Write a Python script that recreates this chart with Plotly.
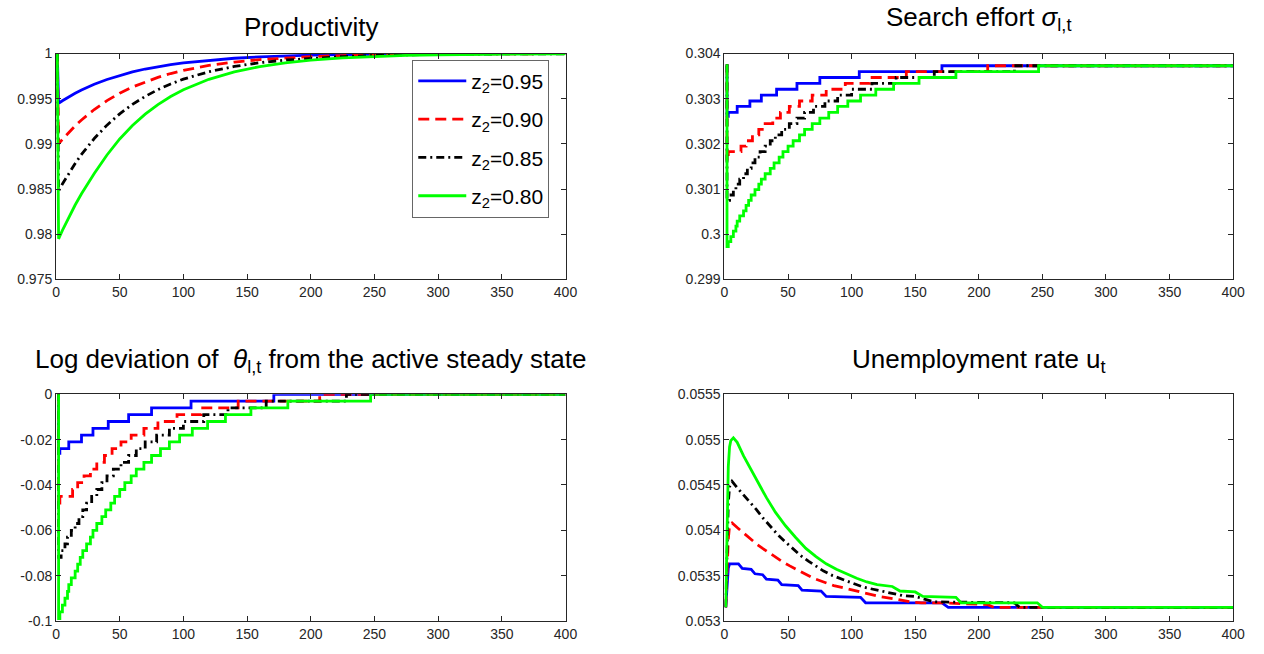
import plotly.graph_objects as go

########################
# Data
series_names = ["z<sub>2</sub>=0.95", "z<sub>2</sub>=0.90", "z<sub>2</sub>=0.85", "z<sub>2</sub>=0.80"]
colors = ["#0000FF", "#FF0000", "#000000", "#00FF00"]
dashes = ["solid", "11px,6px", "8px,4px,2px,4px", "solid"]

# Productivity
prod_t = [1, 2, 5, 10, 15, 20, 30, 40, 50, 60, 70, 80, 90, 100, 120, 140, 160, 180, 200, 225, 250, 275, 300, 350, 400]
prod_095 = [1.0, 0.99450, 0.99478, 0.99521, 0.99560, 0.99596, 0.99660, 0.99713, 0.99758, 0.99797, 0.99829, 0.99856, 0.99878,
            0.99898, 0.99927, 0.99948, 0.99963, 0.99974, 0.99982, 0.99988, 0.99992, 0.99995, 0.99997, 0.99999, 0.99999]
prod_090 = [1.0, 0.99000, 0.99050, 0.99128, 0.99200, 0.99265, 0.99381, 0.99479, 0.99561, 0.99630, 0.99688, 0.99737, 0.99779,
            0.99814, 0.99868, 0.99906, 0.99933, 0.99953, 0.99966, 0.99978, 0.99986, 0.99991, 0.99994, 0.99997, 0.99999]
prod_085 = [1.0, 0.98480, 0.98556, 0.98675, 0.98784, 0.98884, 0.99060, 0.99208, 0.99333, 0.99438, 0.99526, 0.99601, 0.99664,
            0.99717, 0.99799, 0.99857, 0.99899, 0.99928, 0.99949, 0.99967, 0.99978, 0.99986, 0.99991, 0.99996, 0.99998]
prod_080 = [1.0, 0.97950, 0.98043, 0.98190, 0.98324, 0.98449, 0.98672, 0.98878, 0.99055, 0.99204, 0.99329, 0.99435, 0.99524,
            0.99599, 0.99715, 0.99798, 0.99856, 0.99898, 0.99928, 0.99953, 0.99970, 0.99980, 0.99987, 0.99995, 0.99998]

# Step dates (periods where theta / search effort jump to the next level)
step_t_095 = [1, 2, 3, 10, 20, 29, 41, 57, 75, 106, 171, 400]
step_t_090 = [1, 2, 3, 13, 17, 22, 27, 32, 38, 44, 51, 59, 69, 80, 95, 114, 143, 207, 400]
step_t_085 = [1, 2, 4, 7, 9, 12, 15, 18, 21, 24, 28, 32, 36, 40, 45, 51, 57, 63, 70, 79, 89, 100, 116, 135, 165, 228, 400]
step_t_080 = [1, 2, 3, 5, 7, 9, 10, 12, 15, 17, 19, 21, 24, 27, 29, 32, 36, 39, 43, 46, 50, 54, 59, 63, 69, 75, 82, 89,
              97, 107, 119, 133, 153, 182, 247, 400]

# Log deviation of theta
theta_095 = [0, -0.026, -0.024, -0.021, -0.018, -0.015, -0.012, -0.009, -0.006, -0.003, 0, 0]
theta_090 = [0, -0.050, -0.045, -0.042, -0.039, -0.036, -0.033, -0.030, -0.027, -0.024, -0.021, -0.018, -0.015,
             -0.012, -0.009, -0.006, -0.003, 0, 0]
theta_085 = [0, -0.072, -0.069, -0.066, -0.063, -0.060, -0.057, -0.054, -0.051, -0.048, -0.045, -0.042, -0.039,
             -0.036, -0.033, -0.030, -0.027, -0.024, -0.021, -0.018, -0.015, -0.012, -0.009, -0.006, -0.003, 0, 0]
theta_080 = [0, -0.099, -0.096, -0.093, -0.090, -0.087, -0.084, -0.081, -0.078, -0.075, -0.072, -0.069, -0.066,
             -0.063, -0.060, -0.057, -0.054, -0.051, -0.048, -0.045, -0.042, -0.039, -0.036, -0.033, -0.030, -0.027,
             -0.024, -0.021, -0.018, -0.015, -0.012, -0.009, -0.006, -0.003, 0, 0]

# Search effort sigma
sigma_095 = [0.30373, 0.30261, 0.30270, 0.30283, 0.30295, 0.30308, 0.30321, 0.30334, 0.30347, 0.30360, 0.30373, 0.30373]
sigma_090 = [0.30373, 0.30163, 0.30183, 0.30195, 0.30207, 0.30220, 0.30232, 0.30245, 0.30257, 0.30270, 0.30283,
             0.30295, 0.30308, 0.30321, 0.30334, 0.30347, 0.30360, 0.30373, 0.30373]
sigma_085 = [0.30373, 0.30075, 0.30087, 0.30099, 0.30111, 0.30122, 0.30134, 0.30146, 0.30158, 0.30171, 0.30183,
             0.30195, 0.30207, 0.30220, 0.30232, 0.30245, 0.30257, 0.30270, 0.30283, 0.30295, 0.30308, 0.30321,
             0.30334, 0.30347, 0.30360, 0.30373, 0.30373]
sigma_080 = [0.30373, 0.29973, 0.29984, 0.29995, 0.30007, 0.30018, 0.30029, 0.30041, 0.30052, 0.30064, 0.30075,
             0.30087, 0.30099, 0.30111, 0.30122, 0.30134, 0.30146, 0.30158, 0.30171, 0.30183, 0.30195, 0.30207,
             0.30220, 0.30232, 0.30245, 0.30257, 0.30270, 0.30283, 0.30295, 0.30308, 0.30321, 0.30334, 0.30347,
             0.30360, 0.30373, 0.30373]

# Unemployment rate
u_t_095 = [1, 2, 3, 4, 11, 14, 21, 24, 30, 33, 42, 45, 58, 61, 76, 80, 107, 111, 171, 176, 400]
u_095 = [0.05315, 0.05340, 0.05358, 0.05363, 0.05363, 0.05358, 0.05357, 0.05352, 0.05351, 0.05346, 0.05345,
         0.05340, 0.05339, 0.05334, 0.05333, 0.05327, 0.05326, 0.05320, 0.05320, 0.05315, 0.05315]
u_t_090 = [1, 2, 3, 4, 6, 10, 14, 18, 22, 26, 30, 34, 40, 46, 51, 58, 64, 70, 78, 86, 95, 104, 114, 122, 135, 146,
           155, 170, 207, 212, 400]
u_090 = [0.05315, 0.05360, 0.05390, 0.05405, 0.05408, 0.05403, 0.05398, 0.05394, 0.05389, 0.05384, 0.05380, 0.05376,
         0.05370, 0.05365, 0.05361, 0.05356, 0.05352, 0.05347, 0.05343, 0.05339, 0.05336, 0.05333, 0.05330, 0.05327,
         0.05324, 0.05321, 0.05320, 0.05320, 0.05318, 0.05315, 0.05315]
u_t_085 = [1, 2, 3, 4, 6, 10, 15, 20, 25, 30, 36, 42, 48, 54, 60, 66, 72, 78, 85, 92, 100, 110, 120, 130, 140, 150,
           165, 228, 232, 400]
u_085 = [0.05315, 0.05390, 0.05430, 0.05448, 0.05454, 0.05447, 0.05439, 0.05432, 0.05423, 0.05414, 0.05404, 0.05395,
         0.05387, 0.05379, 0.05372, 0.05366, 0.05360, 0.05355, 0.05350, 0.05346, 0.05342, 0.05337, 0.05334, 0.05331,
         0.05328, 0.05327, 0.05321, 0.05320, 0.05315, 0.05315]
u_t_080 = [1, 2, 3, 4, 5, 7, 10, 15, 20, 26, 33, 40, 48, 56, 64, 72, 80, 88, 96, 104, 112, 120, 132, 138, 150, 156,
           182, 186, 246, 250, 400]
u_080 = [0.05315, 0.05400, 0.05470, 0.05492, 0.05499, 0.05502, 0.05497, 0.05482, 0.05469, 0.05453, 0.05436, 0.05420,
         0.05405, 0.05392, 0.05380, 0.05371, 0.05363, 0.05357, 0.05352, 0.05347, 0.05343, 0.05340, 0.05338, 0.05333,
         0.05332, 0.05327, 0.05326, 0.05320, 0.05320, 0.05315, 0.05315]

# Tick labels
x_ticks = [0, 50, 100, 150, 200, 250, 300, 350, 400]
prod_ticks = [0.975, 0.98, 0.985, 0.99, 0.995, 1]
prod_labels = ["0.975", "0.98", "0.985", "0.99", "0.995", "1"]
sigma_ticks = [0.299, 0.3, 0.301, 0.302, 0.303, 0.304]
sigma_labels = ["0.299", "0.3", "0.301", "0.302", "0.303", "0.304"]
theta_ticks = [-0.1, -0.08, -0.06, -0.04, -0.02, 0]
theta_labels = ["-0.1", "-0.08", "-0.06", "-0.04", "-0.02", "0"]
u_ticks = [0.053, 0.0535, 0.054, 0.0545, 0.055, 0.0555]
u_labels = ["0.053", "0.0535", "0.054", "0.0545", "0.055", "0.0555"]
########################

FONT = "Liberation Sans, Arial, Helvetica, sans-serif"
AXIS_COLOR = "#262626"
LW = 2.8

prod_series = [prod_095, prod_090, prod_085, prod_080]
step_times = [step_t_095, step_t_090, step_t_085, step_t_080]
theta_series = [theta_095, theta_090, theta_085, theta_080]
sigma_series = [sigma_095, sigma_090, sigma_085, sigma_080]
u_times = [u_t_095, u_t_090, u_t_085, u_t_080]
u_series = [u_095, u_090, u_085, u_080]

fig = go.Figure()

# one panel at a time, blue -> red -> black -> green (green ends on top)
for i in range(4):
    fig.add_trace(go.Scatter(x=prod_t, y=prod_series[i], mode="lines",
                             line=dict(color=colors[i], width=LW, dash=dashes[i]),
                             name=series_names[i], legendgroup=str(i), xaxis="x", yaxis="y"))
for i in range(4):
    fig.add_trace(go.Scatter(x=step_times[i], y=sigma_series[i], mode="lines",
                             line=dict(color=colors[i], width=LW, dash=dashes[i], shape="hv"),
                             showlegend=False, xaxis="x2", yaxis="y2"))
for i in range(4):
    fig.add_trace(go.Scatter(x=step_times[i], y=theta_series[i], mode="lines",
                             line=dict(color=colors[i], width=LW, dash=dashes[i], shape="hv"),
                             showlegend=False, xaxis="x3", yaxis="y3"))
for i in range(4):
    fig.add_trace(go.Scatter(x=u_times[i], y=u_series[i], mode="lines",
                             line=dict(color=colors[i], width=LW, dash=dashes[i]),
                             showlegend=False, xaxis="x4", yaxis="y4"))

left_dom = [52.7 / 1264, 568.7 / 1264]
right_dom = [729.7 / 1264, 1244.9 / 1264]
top_dom = [1 - 278.3 / 654, 1 - 46.7 / 654]
bot_dom = [1 - 628.3 / 654, 1 - 396.0 / 654]


def axis(domain, anchor, rng, tickvals, ticktext):
    return dict(domain=domain, anchor=anchor, range=rng, tickvals=tickvals, ticktext=ticktext,
                ticks="inside", ticklen=5, tickwidth=1, tickcolor=AXIS_COLOR,
                showline=True, linecolor=AXIS_COLOR, linewidth=1, mirror="ticks",
                showgrid=False, zeroline=False,
                tickfont=dict(family=FONT, size=14, color=AXIS_COLOR))


x_labels = [str(v) for v in x_ticks]
fig.update_layout(
    width=1264, height=654,
    margin=dict(l=0, r=0, t=0, b=0),
    paper_bgcolor="white", plot_bgcolor="white",
    xaxis=axis(left_dom, "y", [0, 400], x_ticks, x_labels),
    yaxis=axis(top_dom, "x", [0.975, 1.0], prod_ticks, prod_labels),
    xaxis2=axis(right_dom, "y2", [0, 400], x_ticks, x_labels),
    yaxis2=axis(top_dom, "x2", [0.299, 0.304], sigma_ticks, sigma_labels),
    xaxis3=axis(left_dom, "y3", [0, 400], x_ticks, x_labels),
    yaxis3=axis(bot_dom, "x3", [-0.1, 0], theta_ticks, theta_labels),
    xaxis4=axis(right_dom, "y4", [0, 400], x_ticks, x_labels),
    yaxis4=axis(bot_dom, "x4", [0.053, 0.0555], u_ticks, u_labels),
    showlegend=True,
    legend=dict(x=413.5 / 1264, y=1 - 53 / 654, xanchor="left", yanchor="top",
                bgcolor="white", bordercolor="#666666", borderwidth=1,
                font=dict(family=FONT, size=21, color="black"),
                traceorder="grouped", tracegroupgap=8, itemwidth=48),
)

title_font = dict(family=FONT, size=26, color="black")
titles = [
    ("Productivity", (left_dom[0] + left_dom[1]) / 2, 1 - 19 / 654),
    ("Search effort <i>σ</i><sub>l,t</sub>", (right_dom[0] + right_dom[1]) / 2, 1 - 11 / 654),
    ("Log deviation of  <i>θ</i><sub>l,t</sub> from the active steady state", (left_dom[0] + left_dom[1]) / 2, 1 - 361 / 654),
    ("Unemployment rate u<sub>t</sub>", (right_dom[0] + right_dom[1]) / 2, 1 - 361 / 654),
]
for text, x, y in titles:
    fig.add_annotation(text=text, x=x, y=y, xref="paper", yref="paper", xanchor="center", yanchor="middle",
                       showarrow=False, font=title_font)

fig.write_html("out.html", config={"displayModeBar": False},
               post_script="document.body.style.margin='0';document.body.style.overflow='hidden';")
